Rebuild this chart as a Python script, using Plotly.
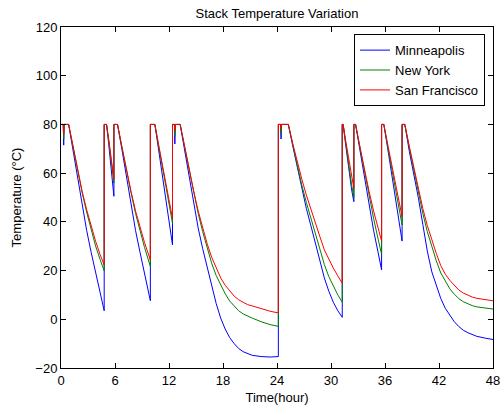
import plotly.graph_objects as go

# Time axis (hours) shared by all three cities
hours = [
    0, 0.25, 0.3, 0.35, 0.85, 1.35, 1.85, 2.35, 2.85, 3.35, 3.85, 4.35, 4.8,
    4.8, 5.06, 5.3, 5.6, 5.88,
    5.88, 6.28, 6.78, 7.28, 7.78, 8.28, 8.78, 9.28, 9.78, 9.93,
    9.93, 10.43, 10.93, 11.43, 11.93, 12.39,
    12.39, 12.6, 12.65, 12.7, 13.24, 13.74, 14.24, 14.74, 15.24, 15.74, 16.24, 16.74,
    17.24, 17.74, 18.24, 18.74, 19.24, 19.74, 20.24, 20.74, 21.24, 22.24, 23.24, 24.15,
    24.15, 24.4, 24.45, 24.5, 25.26, 25.76, 26.26, 26.76, 27.26, 27.76, 28.26, 28.76,
    29.26, 29.76, 30.26, 30.76, 31.25,
    31.25, 31.35, 31.6, 32.0, 32.3, 32.54,
    32.54, 32.73, 33.23, 33.73, 34.23, 34.73, 35.23, 35.62,
    35.62, 35.87, 36.37, 36.87, 37.37, 37.9,
    37.9, 38.2, 38.7, 39.2, 39.7, 40.2, 40.7, 41.2, 41.7, 42.2, 42.7, 43.2, 43.7,
    44.2, 44.7, 45.2, 45.7, 46.2, 47.2, 48.0,
]

minneapolis = [
    80, 80, 71.5, 80, 80, 69, 57.5, 46.5, 36.5, 27.5, 19.5, 11, 3.5,
    80, 80, 72, 60, 50.5,
    80, 80, 69.5, 58, 47, 36.5, 27.5, 19, 10.5, 7.6,
    80, 80, 67.5, 55, 42.5, 30.5,
    80, 80, 72, 80, 80, 69.5, 58, 47, 37.5, 29, 21, 14,
    6.5, 0.5, -4, -7.5, -10, -12, -13.3, -14.2, -14.8, -15.3, -15.5, -15.3,
    80, 80, 74, 80, 80, 71, 62, 53, 45.5, 38.5, 31.5, 24.5,
    17, 11.5, 7, 3.5, 0.8,
    80, 80, 72.5, 60.5, 53, 48.3,
    80, 80, 69, 57.5, 46.5, 36.5, 27.5, 20.3,
    80, 80, 68.5, 56.5, 44, 32.1,
    80, 80, 69, 60, 50, 39, 28, 19.5, 13.5, 8.5, 4.5, 1.5, -1,
    -3, -4.5, -5.5, -6.3, -7, -7.8, -8.3,
]

new_york = [
    80, 80, 74, 80, 80, 70.5, 60.5, 52, 44, 36.5, 30, 24.5, 19.9,
    80, 80, 73.5, 64, 56,
    80, 80, 70.5, 60.5, 52, 43.5, 36, 29.5, 23.5, 21.7,
    80, 80, 69.5, 59, 49, 39.4,
    80, 80, 75.5, 80, 80, 70.5, 61, 52, 43.5, 36, 29, 23,
    18, 14, 10.5, 7.5, 5.5, 3.5, 2.2, 1.2, 0.5, -1, -2.2, -2.9,
    80, 80, 76, 80, 80, 71.5, 63, 55, 48, 41.5, 35, 29,
    22.5, 17.5, 13.5, 10, 7,
    80, 80, 73, 62, 55, 50,
    80, 80, 70, 60, 50.5, 41.5, 33, 26.7,
    80, 80, 69.5, 59.5, 48.5, 38.7,
    80, 80, 70.5, 61, 52, 43.5, 36, 29.5, 24, 19, 15.5, 12.5, 10.3,
    8.5, 7.2, 6.3, 5.6, 5.1, 4.6, 4.2,
]

san_francisco = [
    80, 80, 76, 80, 80, 70.5, 61, 52.5, 45, 38, 32, 26.5, 22.3,
    80, 80, 74, 65, 57.5,
    80, 80, 70.5, 61, 52.5, 44.5, 37.5, 31.5, 26, 24.4,
    80, 80, 70, 60, 50.5, 41.4,
    80, 80, 77.5, 80, 80, 70.5, 61, 52.5, 44.5, 37.5, 31, 25.5,
    21, 17, 14, 11.5, 9.5, 8, 7, 6, 5.5, 4.3, 3.3, 2.6,
    80, 80, 78, 80, 80, 72, 64.5, 57.5, 51, 45, 39.5, 34,
    28.5, 24.5, 21, 17.8, 14.8,
    80, 80, 74, 65, 58.5, 53.7,
    80, 80, 70.5, 61, 52.5, 44.5, 37.5, 32.1,
    80, 80, 70.5, 61.5, 51.5, 42.1,
    80, 80, 71, 62, 53.5, 45.5, 38.5, 32.5, 27, 22, 18.5, 16, 13.8,
    12, 10.8, 9.8, 9.1, 8.6, 8, 7.6,
]

series_names = ["Minneapolis", "New York", "San Francisco"]
series_colors = ["#0000ff", "#008000", "#ff0000"]
x_ticks = [0, 6, 12, 18, 24, 30, 36, 42, 48]
y_ticks = [-20, 0, 20, 40, 60, 80, 100, 120]

fig = go.Figure()
for name, vals, color in zip(series_names, [minneapolis, new_york, san_francisco], series_colors):
    fig.add_trace(go.Scatter(x=hours, y=vals, mode="lines", name=name,
                             line=dict(color=color, width=1)))

font_family = "Liberation Sans, Arial, sans-serif"
axis_common = dict(showgrid=False, zeroline=False, showline=True, linecolor="black",
                   linewidth=1, mirror="ticks", ticks="inside", ticklen=5,
                   tickcolor="black", automargin=False,
                   tickfont=dict(size=13, color="black"))

fig.update_layout(
    width=503, height=407,
    margin=dict(l=61, r=10, t=27, b=39, autoexpand=False),
    paper_bgcolor="white", plot_bgcolor="white",
    font=dict(family=font_family, size=13, color="black"),
    title=dict(text="Stack Temperature Variation", x=0.5, xref="paper",
               y=1 - 13 / 407, yref="container", yanchor="middle",
               font=dict(size=13, color="black")),
    xaxis=dict(range=[0, 48], tickvals=x_ticks,
               title=dict(text="Time(hour)", standoff=6, font=dict(size=13)),
               **axis_common),
    yaxis=dict(range=[-20, 120], tickvals=y_ticks,
               title=dict(text="Temperature (°C)", standoff=10, font=dict(size=13)),
               **axis_common),
    legend=dict(x=0.9815, xanchor="right", y=0.979, yanchor="top",
                bgcolor="white", bordercolor="black", borderwidth=1,
                font=dict(size=13, color="black"), tracegroupgap=0),
    showlegend=True,
)

fig.write_html("out.html")
